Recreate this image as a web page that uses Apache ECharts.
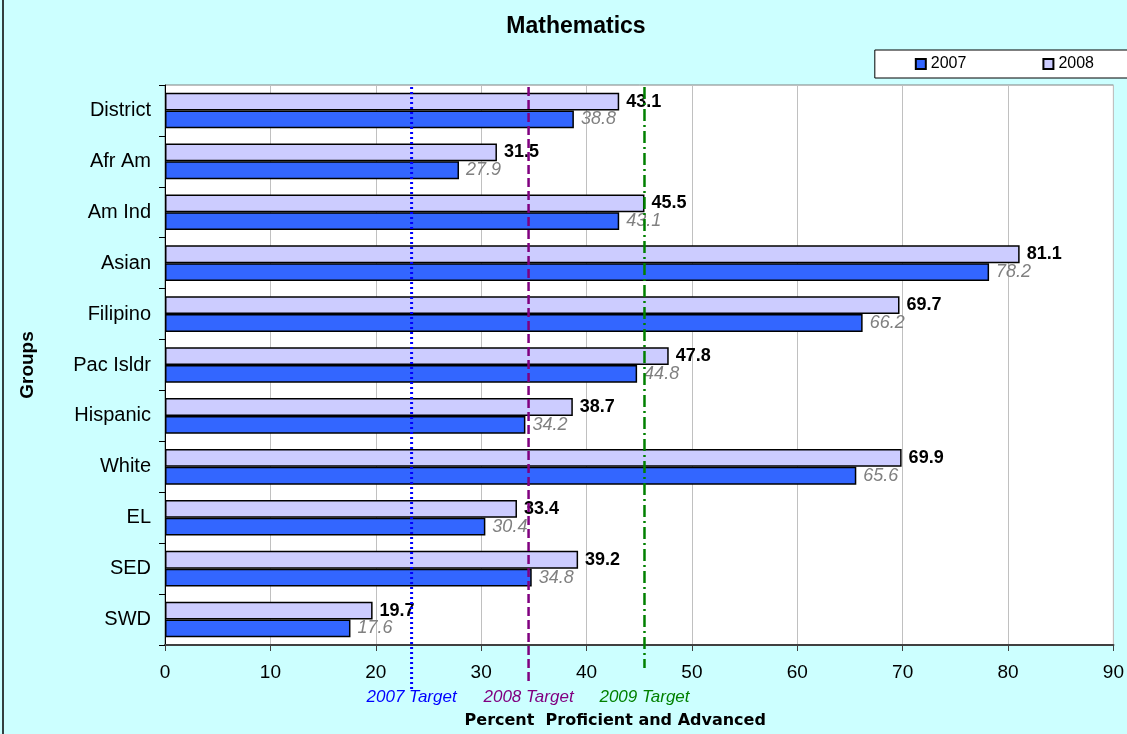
<!DOCTYPE html>
<html><head><meta charset="utf-8">
<script src="https://cdn.jsdelivr.net/npm/echarts@6/dist/echarts.min.js"></script>
<style>html,body{margin:0;padding:0;background:#CCFFFF}#c{width:1127px;height:734px}</style>
</head><body><div id="c"></div>
<script>
const categories = ['District','Afr Am','Am Ind','Asian','Filipino','Pac Isldr','Hispanic','White','EL','SED','SWD'];
const values2007 = [38.8,27.9,43.1,78.2,66.2,44.8,34.2,65.6,30.4,34.8,17.6];
const values2008 = [43.1,31.5,45.5,81.1,69.7,47.8,38.7,69.9,33.4,39.2,19.7];
const targetNames = ['2007 Target','2008 Target','2009 Target'];
const targetValues = [23.4,34.5,45.5];
const xMin = 0, xMax = 90, xInterval = 10;

const FONT = '"Liberation Sans", Arial, sans-serif';
const targetStyles = [
  {color:'#0000FF', width:3, dash:[2,3], bottom:690},
  {color:'#800080', width:2.5, dash:[9,4], bottom:683},
  {color:'#008000', width:2.5, dash:[12,4,2,4], bottom:668}
];

const chart = echarts.init(document.getElementById('c'));
chart.setOption({
  backgroundColor:'#CCFFFF',
  textStyle:{fontFamily:FONT},
  animation:false,
  graphic:[{type:'rect', shape:{x:3,y:-3,width:1140,height:745}, style:{fill:null, stroke:'#000', lineWidth:1.5}, silent:true}],
  title:{text:'Mathematics', left:571, top:10, textAlign:'center',
    textStyle:{fontSize:23, fontWeight:'bold', color:'#000', fontFamily:FONT}},
  legend:{data:['2007','2008'], right:-13, top:50, orient:'horizontal', icon:'rect',
    backgroundColor:'#fff', borderColor:'#000', borderWidth:1,
    padding:[6,46,6,40], itemGap:76, itemWidth:10, itemHeight:10,
    textStyle:{fontSize:16, color:'#000', fontFamily:FONT}},
  grid:{left:165, right:13, top:85, bottom:89, show:true, backgroundColor:'#fff', borderColor:'#808080', borderWidth:1},
  xAxis:{type:'value', min:xMin, max:xMax, interval:xInterval,
    name:'Percent  Proficient and Advanced', nameLocation:'middle', nameGap:68,
    nameTextStyle:{fontSize:16, fontWeight:'bold', color:'#000', fontFamily:'"DejaVu Sans", sans-serif', padding:[0,48,0,0]},
    axisLine:{show:true, lineStyle:{color:'#404040', width:2}},
    axisTick:{show:true, length:6, lineStyle:{color:'#404040', width:1}},
    axisLabel:{fontSize:19, color:'#000', margin:18},
    splitLine:{show:true, lineStyle:{color:'#C0C0C0', width:1}}},
  yAxis:{type:'category', data:categories, inverse:true,
    name:'Groups', nameLocation:'middle', nameGap:128, nameRotate:90,
    nameTextStyle:{fontSize:19, fontWeight:'bold', color:'#000'},
    axisLine:{show:true, lineStyle:{color:'#000', width:1}},
    axisTick:{show:true, length:6, lineStyle:{color:'#000'}},
    axisLabel:{fontSize:20, color:'#000', margin:14},
    splitLine:{show:false}},
  series:[
    {name:'2008', type:'bar', data:values2008, barGap:'0%', barCategoryGap:'30%',
      itemStyle:{color:'#CCCCFF', borderColor:'#000', borderWidth:1.5},
      label:{show:true, position:'right', distance:7, fontSize:18, fontWeight:'bold', color:'#000'}},
    {name:'2007', type:'bar', data:values2007, barGap:'0%', barCategoryGap:'30%',
      itemStyle:{color:'#3366FF', borderColor:'#000', borderWidth:1.5},
      label:{show:true, position:'right', distance:7, fontSize:18, fontStyle:'italic', color:'#808080'}},
    {name:'targets', type:'custom', z:10, clip:false,
      data: targetValues.map(v => [v, 0]),
      encode:{x:0, y:1},
      renderItem:function(params, api){
        const i = params.dataIndex;
        const x = api.coord([api.value(0), 0])[0];
        const cs = params.coordSys;
        const st = targetStyles[i];
        return {type:'group', children:[
          {type:'line', shape:{x1:x, y1:cs.y+2, x2:x, y2:st.bottom},
            style:{stroke:st.color, lineWidth:st.width, lineDash:st.dash}},
          {type:'text', x:x, y:697, style:{text:targetNames[i], fill:st.color,
            font:'italic 17px "Liberation Sans", Arial', align:'center', verticalAlign:'middle'}}
        ]};
      }}
  ]
});
</script></body></html>
